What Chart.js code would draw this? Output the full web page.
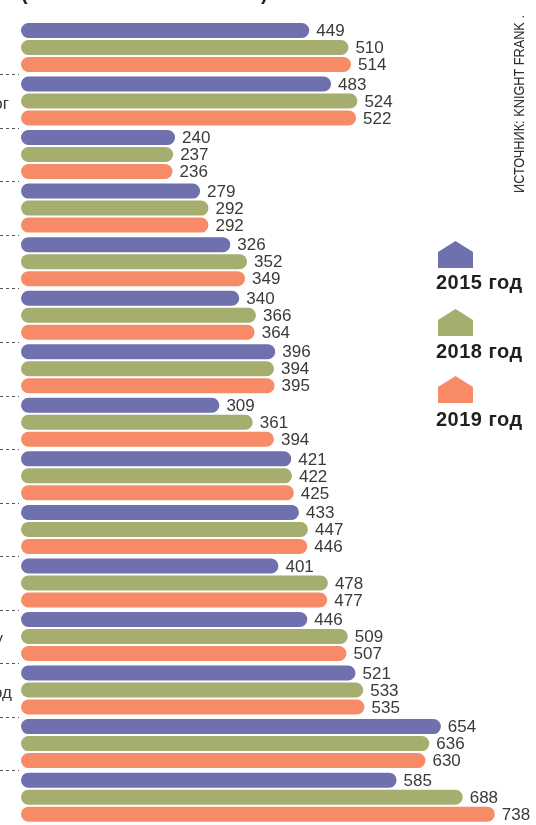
<!DOCTYPE html>
<html>
<head>
<meta charset="utf-8">
<script src="https://cdn.jsdelivr.net/npm/chart.js@4"></script>
<style>
html,body{margin:0;padding:0;background:#fff;width:536px;height:825px;overflow:hidden}
#wrap{position:relative;width:536px;height:825px;overflow:hidden}
canvas{position:absolute;left:0;top:0}
.house{position:absolute;left:438px;width:35px;height:27px;clip-path:polygon(50% 0,100% 41%,100% 100%,0 100%,0 41%)}
.year{position:absolute;left:436px;font:bold 20px "Liberation Sans",sans-serif;letter-spacing:.5px;color:#231f20;white-space:nowrap;line-height:20px}
#source{position:absolute;left:510px;top:193px;font:15px "Liberation Sans",sans-serif;color:#2b2b2b;white-space:nowrap;transform-origin:0 0;transform:rotate(-90deg) scaleX(.85);line-height:17px}
.paren{position:absolute;top:-17px;font:bold 20px "Liberation Sans",sans-serif;color:#231f20;line-height:20px}
</style>
</head>
<body>
<div id="wrap">
  <canvas id="chart" width="536" height="825"></canvas>
  <div class="paren" style="left:21px">(</div>
  <div class="paren" style="left:261px">)</div>
  <div class="house" style="top:241px;background:#6f70ae"></div>
  <div class="year" style="top:272px">2015 год</div>
  <div class="house" style="top:309px;background:#a5ae6e"></div>
  <div class="year" style="top:341px">2018 год</div>
  <div class="house" style="top:376px;background:#f78b68"></div>
  <div class="year" style="top:409px">2019 год</div>
  <div id="source">ИСТОЧНИК: KNIGHT FRANK .</div>
</div>
<script>
const categories = ['', 'ог', '', '', '', '', '', '', '', '', '', 'у', 'од', '', ''];
const values2015 = [449, 483, 240, 279, 326, 340, 396, 309, 421, 433, 401, 446, 521, 654, 585];
const values2018 = [510, 524, 237, 292, 352, 366, 394, 361, 422, 447, 478, 509, 533, 636, 688];
const values2019 = [514, 522, 236, 292, 349, 364, 395, 394, 425, 446, 477, 507, 535, 630, 738];

// the category names are cut off by the left edge of the picture
const labelRight = {'ог': 9, 'у': 3, 'од': 12};

const barExtras = {
  id: 'barExtras',
  afterDatasetsDraw(chart){
    const ctx = chart.ctx;
    ctx.save();
    // value labels
    ctx.font = '17px "Liberation Sans", sans-serif';
    ctx.fillStyle = '#3a3a3a';
    ctx.textBaseline = 'middle';
    ctx.textAlign = 'left';
    chart.data.datasets.forEach((ds, i)=>{
      chart.getDatasetMeta(i).data.forEach((bar, j)=>{
        ctx.fillText(ds.data[j], bar.x + 7, bar.y + 1);
      });
    });
    // dotted separators and cut-off names
    const y = chart.scales.y;
    const step = y.getPixelForValue(1) - y.getPixelForValue(0);
    ctx.strokeStyle = '#555';
    ctx.lineWidth = 1;
    ctx.setLineDash([3, 3]);
    categories.forEach((c, i)=>{
      const py = y.getPixelForValue(i);
      if(i < categories.length - 1){
        ctx.beginPath();
        ctx.moveTo(0, Math.round(py + step / 2) + 0.5);
        ctx.lineTo(19, Math.round(py + step / 2) + 0.5);
        ctx.stroke();
      }
      if(c){
        ctx.textAlign = 'right';
        ctx.fillText(c, labelRight[c], py + 3);
      }
    });
    ctx.restore();
  }
};

new Chart(document.getElementById('chart').getContext('2d'), {
  type: 'bar',
  data: {
    labels: categories,
    datasets: [
      {label: '2015 год', data: values2015, backgroundColor: '#6f70ae'},
      {label: '2018 год', data: values2018, backgroundColor: '#a5ae6e'},
      {label: '2019 год', data: values2019, backgroundColor: '#f78b68'}
    ]
  },
  options: {
    indexAxis: 'y',
    responsive: false,
    animation: false,
    layout: {padding: {left: 21, right: 0, top: 20.7, bottom: 1.1}},
    datasets: {bar: {categoryPercentage: 51 / 53.55, barPercentage: 15 / 17, borderRadius: 7.5, borderSkipped: false}},
    scales: {
      x: {display: false, min: 0, max: (536 - 21) / 0.642},
      y: {display: false}
    },
    plugins: {legend: {display: false}, tooltip: {enabled: false}}
  },
  plugins: [barExtras]
});
</script>
</body>
</html>
